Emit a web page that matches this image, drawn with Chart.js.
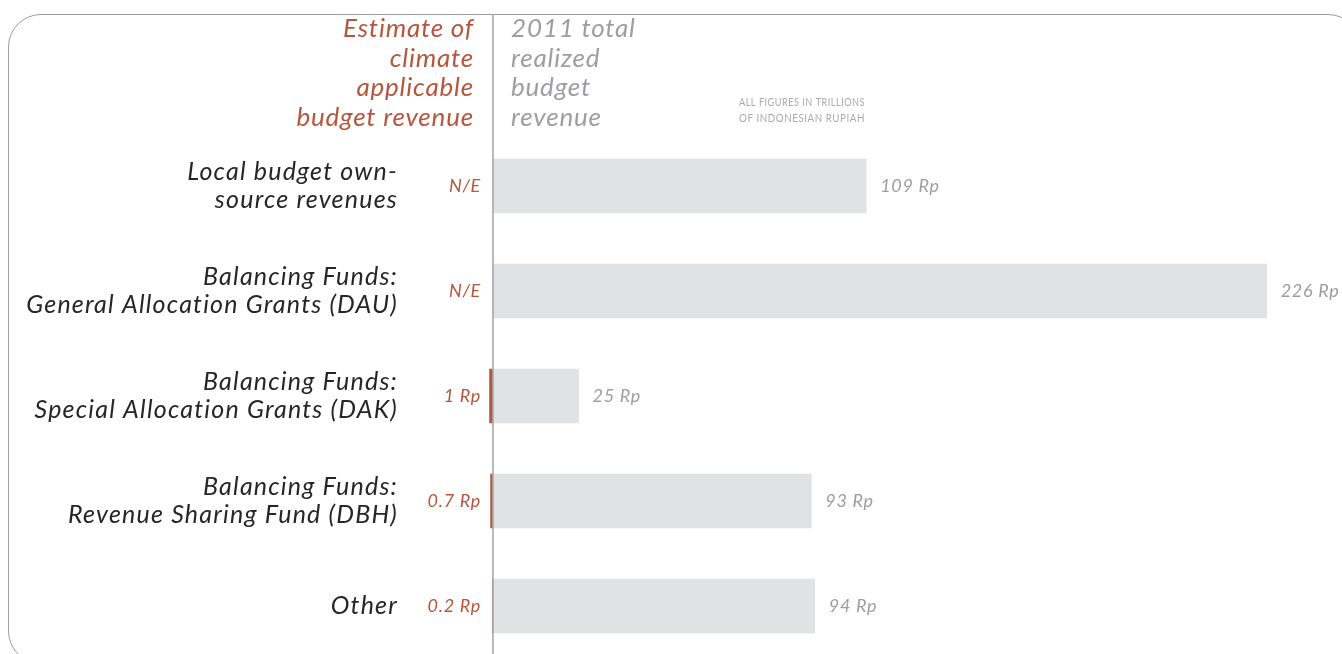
<!DOCTYPE html>
<html>
<head>
<meta charset="utf-8">
<script src="https://cdn.jsdelivr.net/npm/chart.js@4/dist/chart.umd.min.js"></script>
<style>
  html, body { margin: 0; padding: 0; background: #fff; overflow: hidden; }
  #frame {
    position: absolute; left: 8px; top: 14px; width: 1353px; height: 650px;
    border: 1.5px solid #9c9c9e; border-radius: 33px; box-sizing: border-box;
  }
  #wrap { position: absolute; left: 0; top: 0; width: 1342px; height: 660px; }
</style>
</head>
<body>
<div id="frame"></div>
<div id="wrap"><canvas id="revenueChart"></canvas></div>
<script>
// Local budget revenue (trillions of rupiah): total realized vs climate applicable
const categories = [
  ['Local budget own-', 'source revenues'],
  ['Balancing Funds:', 'General Allocation Grants (DAU)'],
  ['Balancing Funds:', 'Special Allocation Grants (DAK)'],
  ['Balancing Funds:', 'Revenue Sharing Fund (DBH)'],
  ['Other']
];
const totalRevenue = [109, 226, 25, 93, 94];
const climateRevenue = [null, null, 1, 0.7, 0.2];
const climateLabels = ['N/E', 'N/E', '1 Rp', '0.7 Rp', '0.2 Rp'];
const totalLabels = totalRevenue.map(v => v + ' Rp');

const RED = '#b6563d';
const GREY_TEXT = '#9d9ea1';
const FONT = 'Lato, "Open Sans", sans-serif';

const labelsPlugin = {
  id: 'labels',
  afterDatasetsDraw(chart) {
    const { ctx, scales: { x, y } } = chart;
    const x0 = x.getPixelForValue(0);
    ctx.save();

    // vertical axis line
    ctx.strokeStyle = '#a3a3a6';
    ctx.lineWidth = 1.5;
    ctx.beginPath();
    ctx.moveTo(x0, 14);
    ctx.lineTo(x0, chart.height);
    ctx.stroke();

    // column headers
    ctx.font = 'italic 26px ' + FONT;
    ctx.letterSpacing = '0.8px';
    ctx.textBaseline = 'middle';
    ctx.textAlign = 'right';
    ctx.fillStyle = RED;
    ['Estimate of', 'climate', 'applicable', 'budget revenue'].forEach((t, i) => {
      ctx.fillText(t, 474, 29 + i * 29.5);
    });
    ctx.textAlign = 'left';
    ctx.fillStyle = GREY_TEXT;
    ['2011 total', 'realized', 'budget', 'revenue'].forEach((t, i) => {
      ctx.fillText(t, 511, 29 + i * 29.5);
    });

    ctx.font = '11px ' + FONT;
    ctx.letterSpacing = '0.6px';
    ctx.fillStyle = '#a9aaad';
    ctx.fillText('ALL FIGURES IN TRILLIONS', 739, 102, 126);
    ctx.fillText('OF INDONESIAN RUPIAH', 739, 118, 126);

    categories.forEach((lines, i) => {
      const cy = y.getPixelForValue(i);
      // category names
      ctx.font = 'italic 25px ' + FONT;
      ctx.letterSpacing = '1.2px';
      ctx.fillStyle = '#262626';
      ctx.textAlign = 'right';
      lines.forEach((t, j) => {
        ctx.fillText(t, 398, cy + (j - (lines.length - 1) / 2) * 28);
      });
      // climate applicable values
      ctx.font = 'italic 18px ' + FONT;
      ctx.letterSpacing = '0.7px';
      ctx.fillStyle = RED;
      ctx.fillText(climateLabels[i], 481, cy);
      // total values
      ctx.textAlign = 'left';
      ctx.fillStyle = GREY_TEXT;
      ctx.fillText(totalLabels[i], x.getPixelForValue(totalRevenue[i]) + 14, cy);
    });
    ctx.restore();
  }
};

new Chart(document.getElementById('revenueChart').getContext('2d'), {
  type: 'bar',
  data: {
    labels: categories,
    datasets: [
      {
        label: '2011 total realized budget revenue',
        data: totalRevenue,
        backgroundColor: '#e1e2e4',
        barThickness: 54,
        grouped: false
      },
      {
        label: 'Estimate of climate applicable budget revenue',
        data: climateRevenue.map(v => (v == null ? null : [-v, 0])),
        backgroundColor: RED,
        barThickness: 54,
        grouped: false
      }
    ]
  },
  options: {
    indexAxis: 'y',
    responsive: true,
    maintainAspectRatio: false,
    animation: false,
    layout: { padding: { top: 133.5, bottom: 1.5, left: 0, right: 0 } },
    scales: {
      x: { display: false, min: -144, max: 248 },
      y: { display: false, offset: true }
    },
    plugins: { legend: { display: false }, tooltip: { enabled: false } }
  },
  plugins: [labelsPlugin]
});
</script>
</body>
</html>
